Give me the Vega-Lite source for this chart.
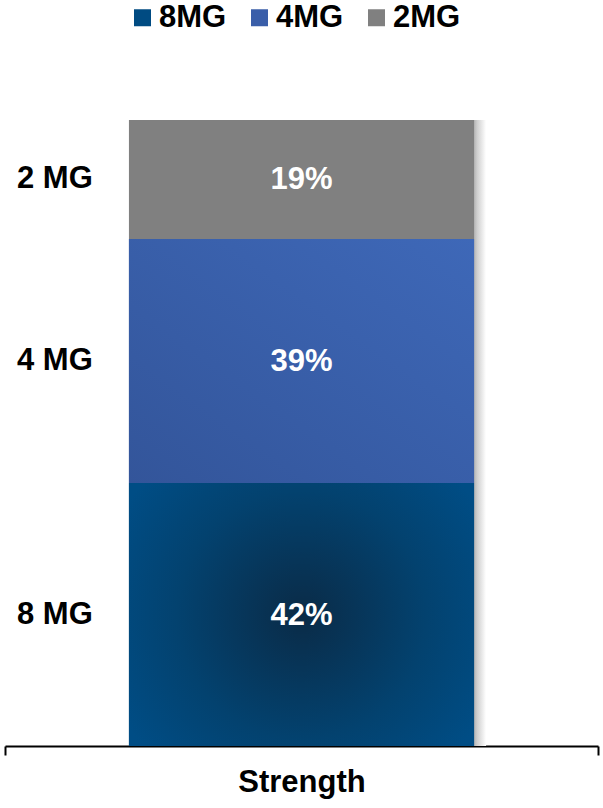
{
  "$schema": "https://vega.github.io/schema/vega-lite/v6.json",
  "width": 593,
  "height": 626,
  "autosize": {"type": "none"},
  "padding": {"left": 5, "top": 120, "right": 5, "bottom": 62},
  "background": "white",
  "config": {"view": {"stroke": null}, "font": "Liberation Sans"},
  "data": {
    "values": [
      {"cat": "Strength", "series": "8MG", "label": "8 MG", "mg": 8, "value": 0.42, "text": "42%"},
      {"cat": "Strength", "series": "4MG", "label": "4 MG", "mg": 4, "value": 0.39, "text": "39%"},
      {"cat": "Strength", "series": "2MG", "label": "2 MG", "mg": 2, "value": 0.19, "text": "19%"}
    ]
  },
  "transform": [
    {"stack": "value", "groupby": ["cat"], "sort": [{"field": "mg", "order": "descending"}], "as": ["y0", "y1"]},
    {"calculate": "(datum.y0+datum.y1)/2", "as": "ymid"}
  ],
  "encoding": {
    "x": {
      "field": "cat",
      "type": "nominal",
      "scale": {"paddingInner": 0, "paddingOuter": 0},
      "axis": {
        "title": "Strength",
        "labels": false,
        "domain": true,
        "domainColor": "black",
        "domainWidth": 2,
        "ticks": true,
        "tickBand": "extent",
        "tickSize": 9,
        "tickWidth": 2,
        "tickColor": "black",
        "titleFontSize": 31,
        "titleFontWeight": "bold",
        "titleColor": "black",
        "titlePadding": 11,
        "grid": false
      }
    }
  },
  "layer": [
    {
      "mark": {
        "type": "bar",
        "width": {"band": 0.582},
        "xOffset": 12,
        "fill": {
          "gradient": "linear",
          "x1": 0, "y1": 0, "x2": 1, "y2": 0,
          "stops": [
            {"offset": 0.95, "color": "#8a8a8a"},
            {"offset": 0.975, "color": "#d0d0d0"},
            {"offset": 1, "color": "#ffffff"}
          ]
        }
      },
      "encoding": {
        "y": {"field": "y0", "type": "quantitative", "scale": {"domain": [0, 1]}, "axis": null},
        "y2": {"field": "y1"}
      }
    },
    {
      "mark": {"type": "bar", "width": {"band": 0.582}},
      "encoding": {
        "y": {"field": "y0", "type": "quantitative"},
        "y2": {"field": "y1"},
        "color": {
          "field": "series",
          "type": "nominal",
          "scale": {"domain": ["8MG", "4MG", "2MG"], "range": ["#004b82", "#3a5ea9", "#808080"]},
          "legend": {
            "orient": "none",
            "legendX": 122,
            "legendY": -118,
            "direction": "horizontal",
            "title": null,
            "symbolType": "square",
            "symbolSize": 289,
            "symbolStrokeWidth": 0,
            "symbolOpacity": 1,
            "labelFontSize": 31,
            "labelFontWeight": "bold",
            "labelColor": "black",
            "labelOffset": 1,
            "columnPadding": 17
          }
        }
      }
    },
    {
      "transform": [{"filter": "datum.series == '8MG'"}],
      "mark": {
        "type": "bar",
        "width": {"band": 0.582},
        "fill": {
          "gradient": "radial",
          "x1": 0.5, "y1": 0.5, "r1": 0,
          "x2": 0.5, "y2": 0.5, "r2": 0.6,
          "stops": [
            {"offset": 0, "color": "#0a2b47"},
            {"offset": 0.6, "color": "#03426f"},
            {"offset": 1, "color": "#004d85"}
          ]
        }
      },
      "encoding": {
        "y": {"field": "y0", "type": "quantitative"},
        "y2": {"field": "y1"}
      }
    },
    {
      "transform": [{"filter": "datum.series == '4MG'"}],
      "mark": {
        "type": "bar",
        "width": {"band": 0.582},
        "fill": {
          "gradient": "linear",
          "x1": 0, "y1": 1, "x2": 1, "y2": 0,
          "stops": [
            {"offset": 0, "color": "#33559a"},
            {"offset": 1, "color": "#3e68b8"}
          ]
        }
      },
      "encoding": {
        "y": {"field": "y0", "type": "quantitative"},
        "y2": {"field": "y1"}
      }
    },
    {
      "mark": {"type": "text", "color": "white", "fontSize": 31, "fontWeight": "bold", "dy": 1},
      "encoding": {
        "y": {"field": "ymid", "type": "quantitative"},
        "text": {"field": "text"}
      }
    },
    {
      "mark": {"type": "text", "align": "left", "dx": 12, "color": "black", "fontSize": 31, "fontWeight": "bold"},
      "encoding": {
        "x": {"field": "cat", "type": "nominal", "bandPosition": 0},
        "y": {"field": "ymid", "type": "quantitative"},
        "text": {"field": "label"}
      }
    }
  ]
}
